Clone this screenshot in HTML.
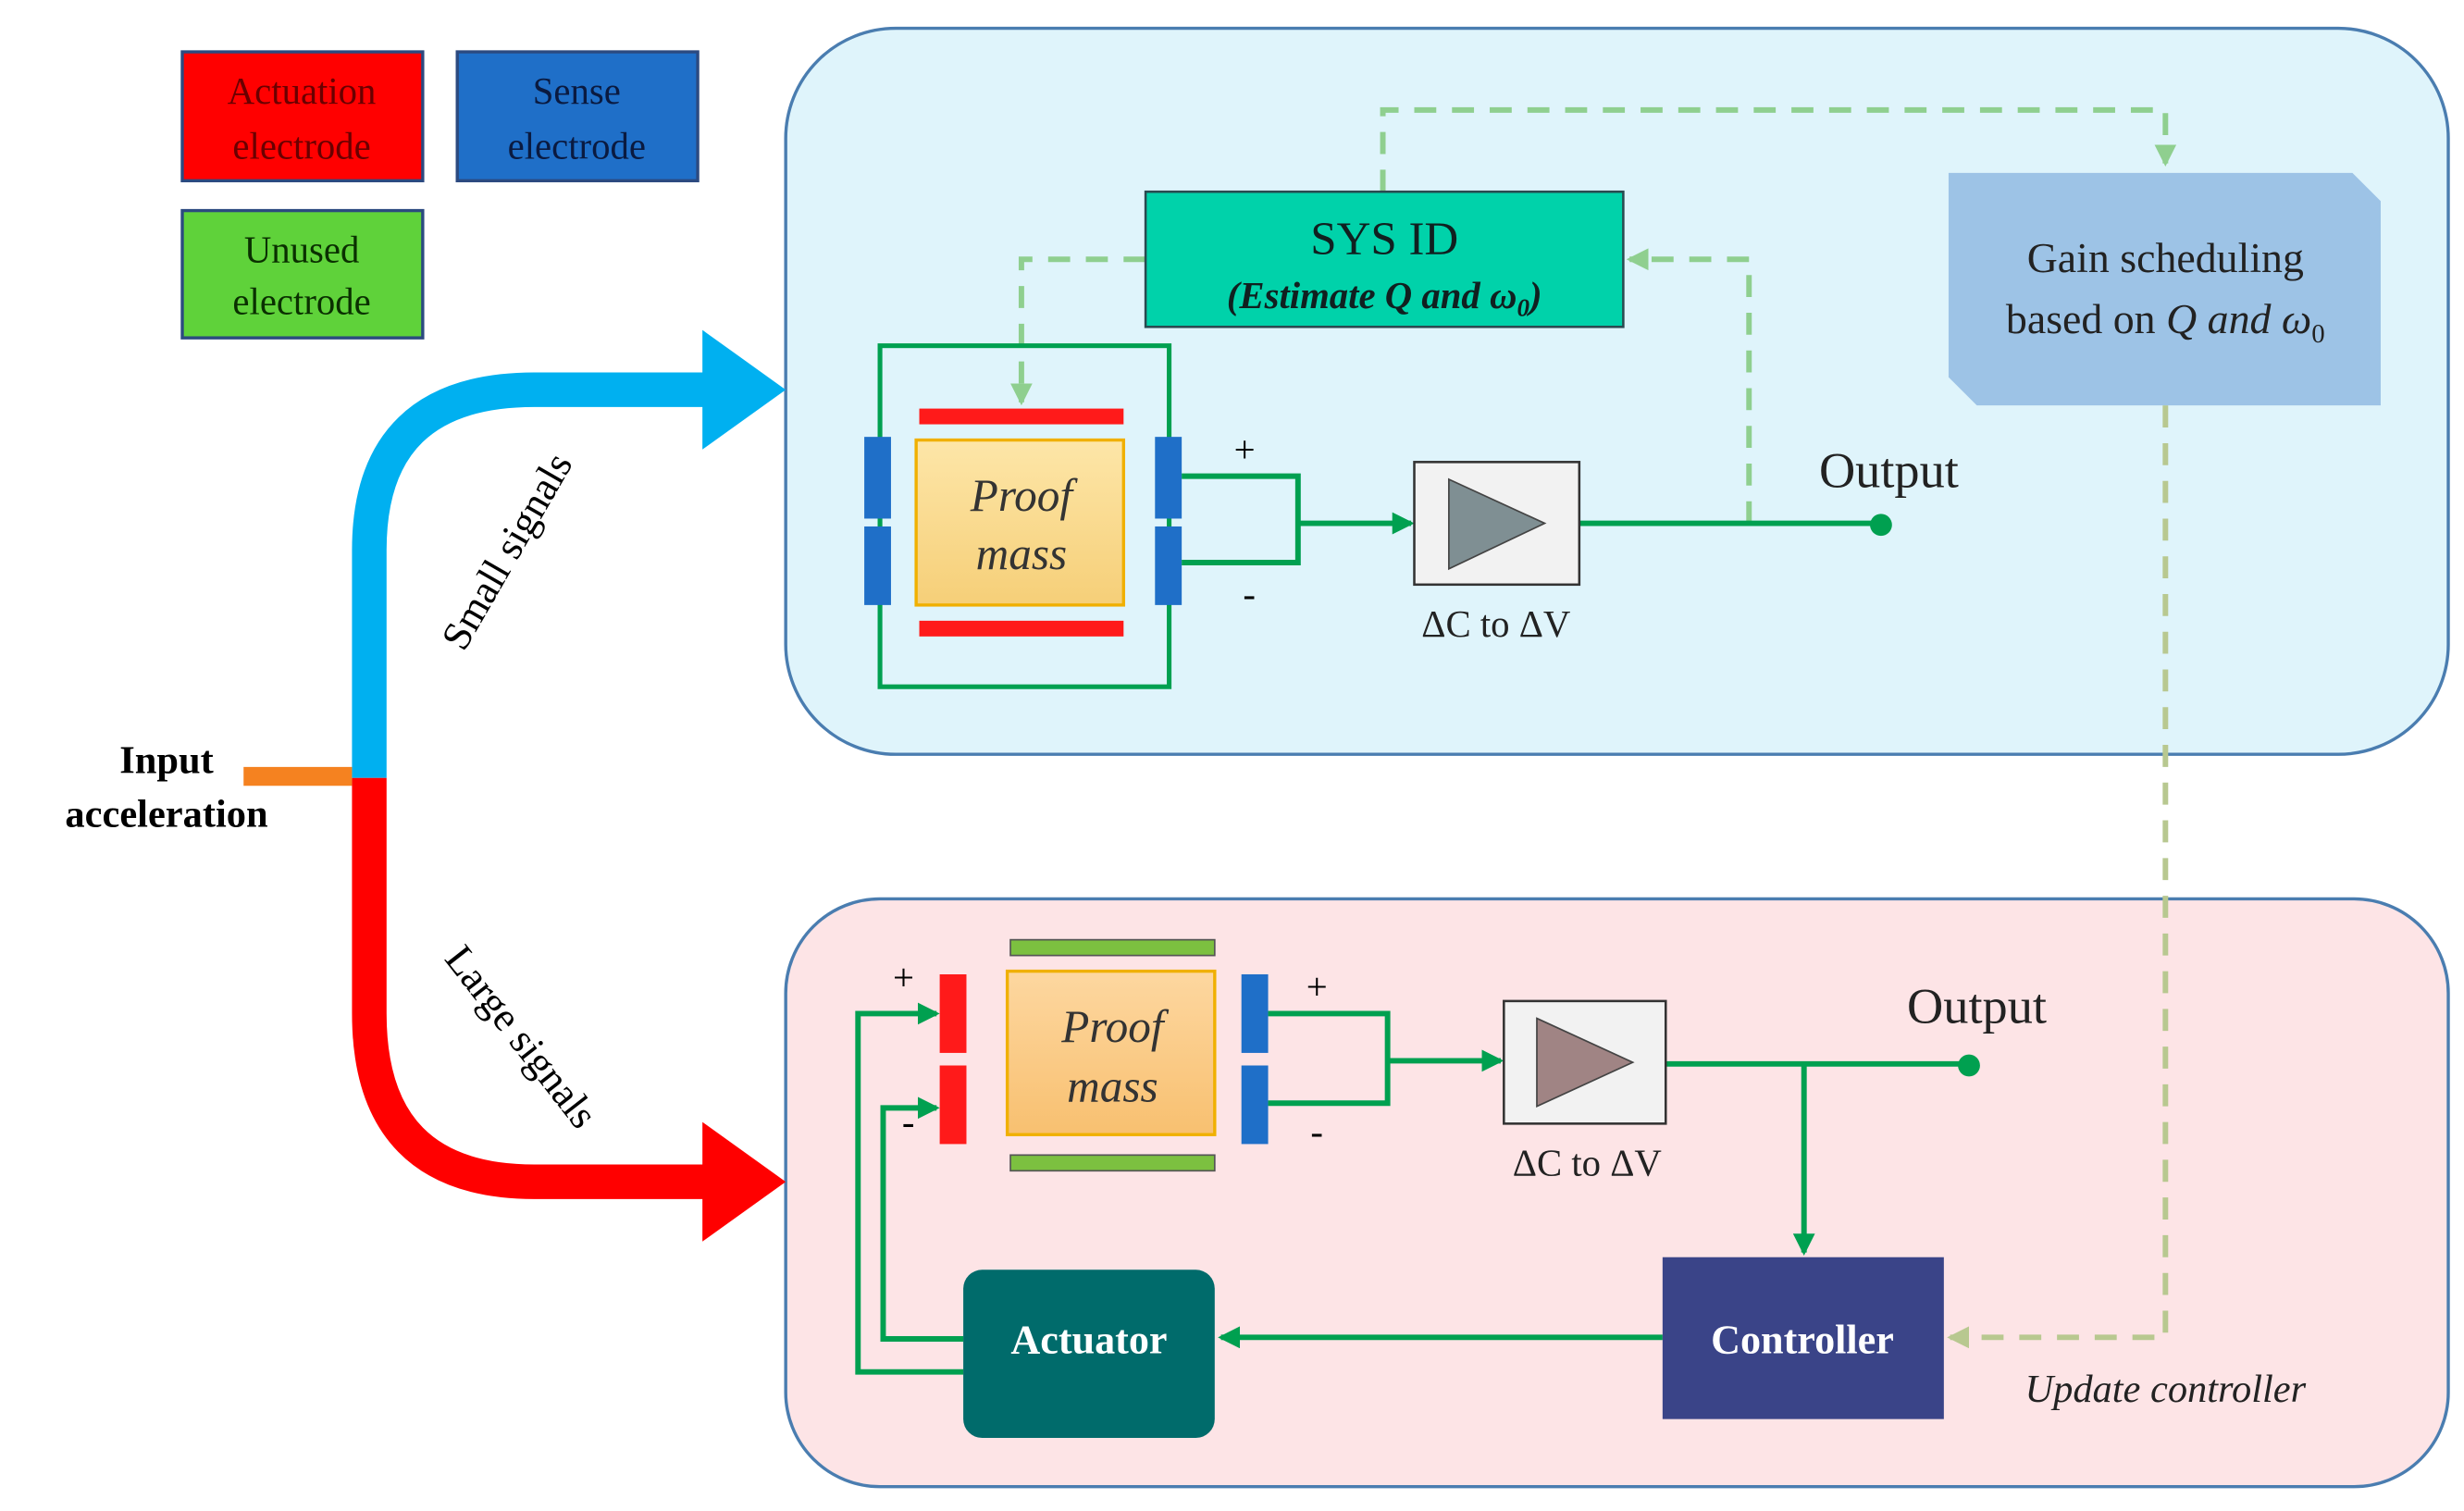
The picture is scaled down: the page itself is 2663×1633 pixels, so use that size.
<!DOCTYPE html>
<html><head><meta charset="utf-8"><style>html,body{margin:0;padding:0;background:#fff}svg{display:block}</style></head><body>
<svg width="2663" height="1633" viewBox="0 0 1568 961.5" preserveAspectRatio="none" xmlns="http://www.w3.org/2000/svg" font-family="Liberation Serif, serif">
<defs>
<marker id="ga" markerWidth="8" markerHeight="8" refX="7" refY="4" orient="auto" markerUnits="userSpaceOnUse"><path d="M0,0 L8,4 L0,8 z" fill="#00a050"/></marker>
<marker id="ga2" markerWidth="14" markerHeight="14" refX="12" refY="7" orient="auto" markerUnits="userSpaceOnUse"><path d="M0,0 L14,7 L0,14 z" fill="#00a050"/></marker>
<marker id="la" markerWidth="14" markerHeight="14" refX="12" refY="7" orient="auto" markerUnits="userSpaceOnUse"><path d="M0,0 L14,7 L0,14 z" fill="#8fcf8f"/></marker>
<marker id="oa" markerWidth="14" markerHeight="14" refX="12" refY="7" orient="auto" markerUnits="userSpaceOnUse"><path d="M0,0 L14,7 L0,14 z" fill="#b8c890"/></marker>
<linearGradient id="pm" x1="0" y1="0" x2="0" y2="1"><stop offset="0" stop-color="#fde6a8"/><stop offset="1" stop-color="#f6cf78"/></linearGradient>
<linearGradient id="pm2" x1="0" y1="0" x2="0" y2="1"><stop offset="0" stop-color="#fdd7a0"/><stop offset="1" stop-color="#f8c070"/></linearGradient>
</defs>
<!-- legend -->
<rect x="116" y="33" width="153" height="82" fill="#ff0000" stroke="#2c4a80" stroke-width="2"/>
<text x="192" y="66" font-size="24" text-anchor="middle" fill="#6a0000">Actuation</text>
<text x="192" y="101" font-size="24" text-anchor="middle" fill="#6a0000">electrode</text>
<rect x="291" y="33" width="153" height="82" fill="#1f6fc8" stroke="#2c4a80" stroke-width="2"/>
<text x="367" y="66" font-size="24" text-anchor="middle" fill="#0a1a40">Sense</text>
<text x="367" y="101" font-size="24" text-anchor="middle" fill="#0a1a40">electrode</text>
<rect x="116" y="134" width="153" height="81" fill="#5fd23a" stroke="#2c4a80" stroke-width="2"/>
<text x="192" y="167" font-size="24" text-anchor="middle" fill="#0a3000">Unused</text>
<text x="192" y="200" font-size="24" text-anchor="middle" fill="#0a3000">electrode</text>
<!-- panels -->
<rect x="500" y="18" width="1058" height="462" rx="70" fill="#dff4fb" stroke="#4a7db0" stroke-width="2"/>
<rect x="500" y="572" width="1058" height="374" rx="60" fill="#fde4e6" stroke="#4a7db0" stroke-width="2"/>
<!-- arrows -->
<path d="M235,495 L235,350 Q235,248 340,248 L450,248" fill="none" stroke="#00b0f0" stroke-width="22"/>
<path d="M447,210 L500,248 L447,286 z" fill="#00b0f0"/>
<path d="M235,495 L235,645 Q235,752 340,752 L450,752" fill="none" stroke="#ff0000" stroke-width="22"/>
<path d="M447,714 L500,752 L447,790 z" fill="#ff0000"/>
<line x1="155" y1="494" x2="224" y2="494" stroke="#f58220" stroke-width="12"/>
<text x="106" y="492" font-size="25" font-weight="bold" text-anchor="middle">Input</text>
<text x="106" y="526" font-size="25" font-weight="bold" text-anchor="middle">acceleration</text>
<text transform="translate(330,355) rotate(-60)" font-size="26" text-anchor="middle">Small signals</text>
<text transform="translate(325,665) rotate(52)" font-size="26" text-anchor="middle">Large signals</text>
<!-- dashed -->
<g fill="none" stroke="#8fcf8f" stroke-width="3.5" stroke-dasharray="14,10">
<path d="M880,122 L880,70 L1378,70 L1378,104" marker-end="url(#la)"/>
<path d="M729,165 L650,165 L650,256" marker-end="url(#la)"/>
<path d="M1113,333 L1113,165 L1037,165" marker-end="url(#la)"/>
</g>
<path d="M1378,258 L1378,851 L1241,851" fill="none" stroke="#b8c890" stroke-width="3.5" stroke-dasharray="14,10" marker-end="url(#oa)"/>
<!-- SYS ID -->
<rect x="729" y="122" width="304" height="86" fill="#00d2aa" stroke="#2a4a50" stroke-width="1.5"/>
<text x="881" y="162" font-size="30" text-anchor="middle" fill="#102020">SYS ID</text>
<text x="881" y="196" font-size="24" font-style="italic" font-weight="bold" text-anchor="middle" fill="#102020">(Estimate Q and ω<tspan font-size="16" dy="5">0</tspan><tspan dy="-5">)</tspan></text>
<!-- Gain -->
<path d="M1240,110 L1497,110 L1515,128 L1515,258 L1258,258 L1240,240 z" fill="#9dc3e6"/>
<text x="1378" y="173" font-size="27" text-anchor="middle" fill="#222">Gain scheduling</text>
<text x="1378" y="212" font-size="27" text-anchor="middle" fill="#222">based on <tspan font-style="italic">Q and ω</tspan><tspan font-size="17" dy="6">0</tspan></text>
<!-- top sensor -->
<rect x="560" y="220" width="184" height="217" fill="none" stroke="#00a050" stroke-width="3"/>
<rect x="585" y="260" width="130" height="10" fill="#ff1a1a"/>
<rect x="585" y="395" width="130" height="10" fill="#ff1a1a"/>
<rect x="583" y="280" width="132" height="105" fill="url(#pm)" stroke="#f0b000" stroke-width="2"/>
<text x="650" y="325" font-size="29" font-style="italic" text-anchor="middle" fill="#333">Proof</text>
<text x="650" y="362" font-size="29" font-style="italic" text-anchor="middle" fill="#333">mass</text>
<rect x="550" y="278" width="17" height="52" fill="#1f6fc8"/><rect x="550" y="335" width="17" height="50" fill="#1f6fc8"/>
<rect x="735" y="278" width="17" height="52" fill="#1f6fc8"/><rect x="735" y="335" width="17" height="50" fill="#1f6fc8"/>
<g fill="none" stroke="#00a050" stroke-width="3.5">
<path d="M752,303 L826,303 L826,358 L752,358"/>
<path d="M826,333 L898,333" marker-end="url(#ga2)"/>
<path d="M1005,333 L1197,333"/>
</g>
<circle cx="1197" cy="334" r="7" fill="#00a050"/>
<text x="792" y="294" font-size="24" text-anchor="middle">+</text>
<text x="795" y="386" font-size="24" text-anchor="middle">-</text>
<rect x="900" y="294" width="105" height="78" fill="#f2f2f2" stroke="#333" stroke-width="1.5"/>
<path d="M922,305 L983,333 L922,362 z" fill="#7f8f93" stroke="#444" stroke-width="1"/>
<text x="952" y="405" font-size="24" text-anchor="middle" fill="#222">ΔC to ΔV</text>
<text x="1202" y="310" font-size="32" text-anchor="middle" fill="#222">Output</text>
<!-- bottom sensor -->
<rect x="643" y="598" width="130" height="10" fill="#7cc040" stroke="#555" stroke-width="1"/>
<rect x="643" y="735" width="130" height="10" fill="#7cc040" stroke="#555" stroke-width="1"/>
<rect x="641" y="618" width="132" height="104" fill="url(#pm2)" stroke="#f0b000" stroke-width="2"/>
<text x="708" y="663" font-size="29" font-style="italic" text-anchor="middle" fill="#333">Proof</text>
<text x="708" y="701" font-size="29" font-style="italic" text-anchor="middle" fill="#333">mass</text>
<rect x="598" y="620" width="17" height="50" fill="#ff1a1a"/><rect x="598" y="678" width="17" height="50" fill="#ff1a1a"/>
<rect x="790" y="620" width="17" height="50" fill="#1f6fc8"/><rect x="790" y="678" width="17" height="50" fill="#1f6fc8"/>
<g fill="none" stroke="#00a050" stroke-width="3.5">
<path d="M807,645 L883,645 L883,702 L807,702"/>
<path d="M883,675 L955,675" marker-end="url(#ga2)"/>
<path d="M1060,677 L1253,677"/>
<path d="M1148,677 L1148,797" marker-end="url(#ga2)"/>
<path d="M1058,851 L777,851" marker-end="url(#ga2)"/>
<path d="M613,852 L562,852 L562,705 L596,705" marker-end="url(#ga2)"/>
<path d="M613,873 L546,873 L546,645 L596,645" marker-end="url(#ga2)"/>
</g>
<circle cx="1253" cy="678" r="7" fill="#00a050"/>
<text x="838" y="636" font-size="24" text-anchor="middle">+</text>
<text x="838" y="728" font-size="24" text-anchor="middle">-</text>
<text x="575" y="630" font-size="24" text-anchor="middle">+</text>
<text x="578" y="722" font-size="24" text-anchor="middle">-</text>
<rect x="957" y="637" width="103" height="78" fill="#f2f2f2" stroke="#333" stroke-width="1.5"/>
<path d="M978,648 L1039,676 L978,704 z" fill="#a08484" stroke="#444" stroke-width="1"/>
<text x="1010" y="748" font-size="24" text-anchor="middle" fill="#222">ΔC to ΔV</text>
<text x="1258" y="651" font-size="32" text-anchor="middle" fill="#222">Output</text>
<rect x="613" y="808" width="160" height="107" rx="12" fill="#006b6b"/>
<text x="693" y="861" font-size="26" font-weight="bold" text-anchor="middle" fill="#fff">Actuator</text>
<rect x="1058" y="800" width="179" height="103" fill="#3a4488"/>
<text x="1147" y="861" font-size="26" font-weight="bold" text-anchor="middle" fill="#fff">Controller</text>
<text x="1378" y="892" font-size="25" font-style="italic" text-anchor="middle" fill="#222">Update controller</text>
</svg>
</body></html>
